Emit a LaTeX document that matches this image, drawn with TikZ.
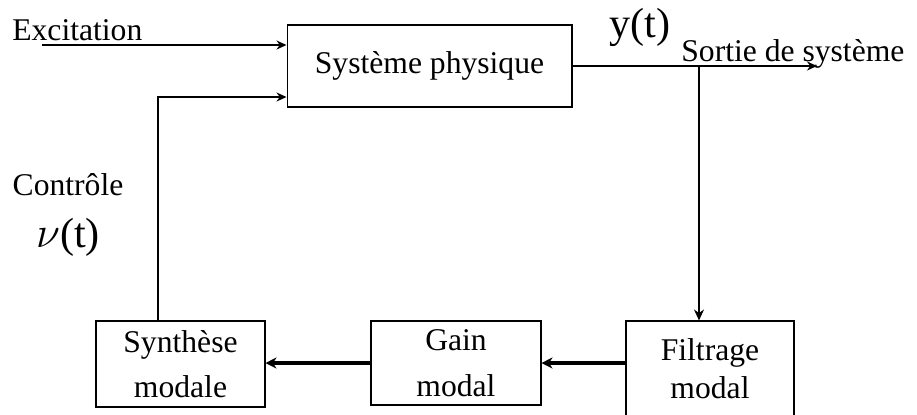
\documentclass[tikz,border=0pt]{standalone}
\usepackage{fontspec}
\setmainfont{Liberation Serif}
\usetikzlibrary{arrows.meta, positioning}

\begin{document}
\begin{tikzpicture}[x=0.02cm, y=-0.02cm, font=\fontsize{18}{26}\selectfont,
    every node/.style={inner sep=0pt},
    block/.style={draw, line width=0.6pt, align=center},
    thinarrow/.style={line width=0.9pt, -{Stealth[length=2mm, width=1.8mm]}},
    thickarrow/.style={line width=1.8pt, -{Stealth[length=2.2mm, width=2.2mm]}}]
                \useasboundingbox (0,0) rectangle (917,414);
                \node [block, minimum width=5.7cm, minimum height=1.64cm] (sys) at (429.5,66) {Système physique};
                \node [block, minimum width=3.38cm, minimum height=1.72cm] (synth) at (180.5,364) {Synthèse\\modale};
                \node [block, minimum width=3.4cm, minimum height=1.68cm] (gain) at (456,363) {Gain\\modal};
                \node [block, minimum width=3.36cm, minimum height=1.9cm] (filt) at (710,368.5) {Filtrage\\[-4.5pt]modal};
                \node [anchor=base west] (exc) at (12,40) {Excitation};
                \node (ylab) at (640,27) {\fontsize{24}{28}\selectfont y(t)};
                \node [anchor=base west] (sortie) at (681,61) {Sortie de système};
                \node (ctl) at (68,185) {Contrôle};
                \node (vlab) at (68,237) {\fontsize{24}{28}\selectfont$\nu$(t)};
                \coordinate (in) at (42,45);
                \coordinate (out) at (817,66);
                \coordinate (br) at (699,66);
                \coordinate (fb) at (158,97);
                \draw [thinarrow] (in) -- (in -| sys.west);
                \draw [thinarrow] (sys.east) -- (out);
                \draw [line width=1.2pt, -{Stealth[length=2.2mm, width=2mm]}] (br) -- (br |- filt.north);
                \draw [thickarrow] (gain.east -| filt.west) -- (gain.east);
                \draw [thickarrow] (gain.west) -- (gain.west -| synth.east);
                \draw [line width=0.7pt, -{Stealth[length=2mm, width=1.8mm]}] (synth.north -| fb) -- (fb) -- (fb -| sys.west);
            \end{tikzpicture}
\end{document}
